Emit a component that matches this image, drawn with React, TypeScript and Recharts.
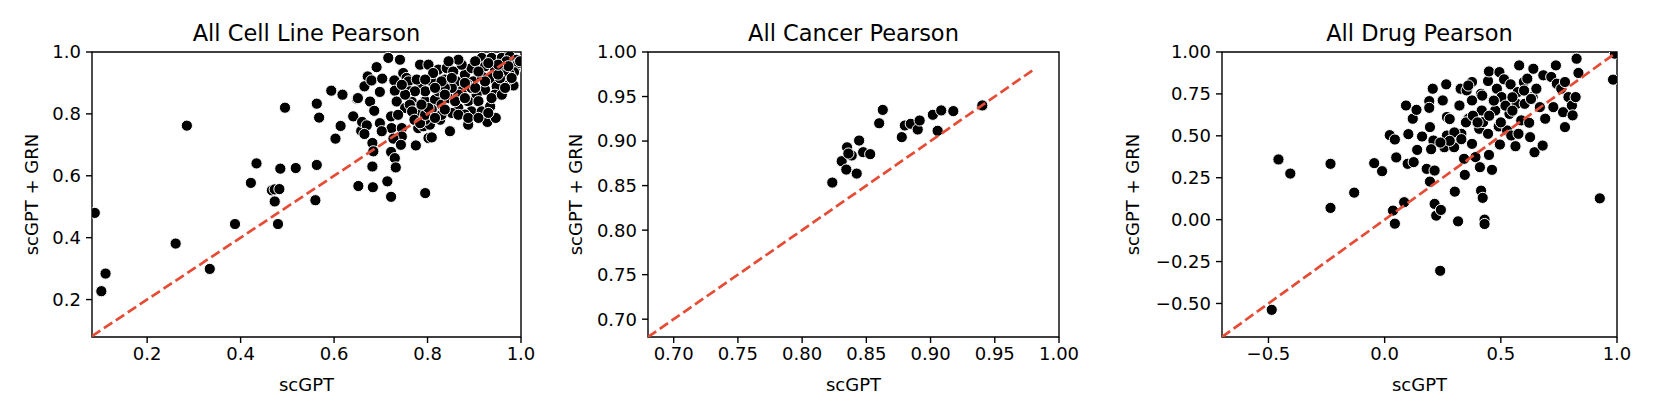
import {
  ReferenceArea,
  Scatter,
  ScatterChart,
  XAxis,
  YAxis,
} from "recharts";

const FONT = "'DejaVu Sans', sans-serif";
const RED = "#E64B35";

// All Cell Line Pearson
const cellLineX = [
  0.088, 0.102, 0.111, 0.261, 0.285, 0.334, 0.388, 0.422, 0.434, 0.467, 0.473, 0.473, 0.483, 0.485,
  0.48, 0.495, 0.518, 0.56, 0.563, 0.563, 0.568, 0.594, 0.603, 0.614, 0.618, 0.641, 0.649, 0.652,
  0.658, 0.716, 0.741, 0.691, 0.672, 0.665, 0.68, 0.703, 0.729, 0.748, 0.755, 0.651, 0.677, 0.698,
  0.73, 0.686, 0.66, 0.67, 0.665, 0.698, 0.722, 0.723, 0.745, 0.702, 0.745, 0.727, 0.743, 0.682,
  0.684, 0.722, 0.73, 0.732, 0.682, 0.683, 0.714, 0.722, 0.795, 0.775, 0.802, 0.809, 0.848, 0.887,
  0.928, 0.946, 0.984, 0.78, 0.791, 0.805, 0.827, 0.766, 0.77, 0.773, 0.78, 0.795, 0.816, 0.83,
  0.845, 0.809, 0.787, 0.809, 0.784, 0.802, 0.823, 0.837, 0.841, 0.855, 0.862, 0.873, 0.88, 0.894,
  0.898, 0.916, 0.937, 0.959, 0.976, 0.991, 0.923, 0.944, 0.966, 0.98, 0.916, 0.937, 0.948, 0.923,
  0.905, 0.887, 0.909, 0.866, 0.894, 0.916, 0.934, 0.88, 0.852, 0.83, 0.759, 0.762, 0.734, 0.752,
  0.737, 0.795, 0.866, 0.852, 0.887, 0.944, 0.969, 0.987, 0.994, 0.823, 0.837, 0.777, 0.812, 0.969,
  0.902, 0.873, 0.894, 0.998, 0.985, 0.975, 0.965, 0.955, 0.762, 0.767, 0.772, 0.784, 0.795, 0.802,
  0.787, 0.816, 0.837, 0.859, 0.88, 0.902, 0.923, 0.951, 0.973, 0.83, 0.852, 0.88, 0.909, 0.795,
  0.773, 0.752, 0.745, 0.795, 0.816, 0.837, 0.866, 0.887, 0.909, 0.93, 0.937, 0.959, 0.966, 0.98,
  0.951, 0.93, 0.866, 0.845,
];
const cellLineY = [
  0.48, 0.227, 0.284, 0.381, 0.762, 0.299, 0.444, 0.577, 0.64, 0.553, 0.556, 0.517, 0.557, 0.623,
  0.444, 0.82, 0.625, 0.521, 0.635, 0.833, 0.788, 0.875, 0.72, 0.761, 0.862, 0.792, 0.849, 0.567,
  0.745, 0.981, 0.975, 0.951, 0.921, 0.889, 0.908, 0.914, 0.908, 0.932, 0.916, 0.851, 0.84, 0.871,
  0.875, 0.81, 0.774, 0.763, 0.735, 0.77, 0.792, 0.754, 0.754, 0.744, 0.727, 0.72, 0.7, 0.706,
  0.679, 0.677, 0.657, 0.627, 0.63, 0.563, 0.582, 0.532, 0.544, 0.698, 0.722, 0.724, 0.744, 0.765,
  0.774, 0.787, 0.892, 0.754, 0.76, 0.765, 0.781, 0.84, 0.819, 0.792, 0.808, 0.841, 0.846, 0.83,
  0.851, 0.814, 0.884, 0.905, 0.959, 0.959, 0.943, 0.911, 0.948, 0.937, 0.905, 0.873, 0.927, 0.948,
  0.905, 0.981, 0.981, 0.981, 0.986, 0.975, 0.954, 0.948, 0.937, 0.948, 0.921, 0.916, 0.889, 0.878,
  0.862, 0.841, 0.841, 0.819, 0.808, 0.808, 0.824, 0.798, 0.803, 0.797, 0.905, 0.873, 0.84, 0.819,
  0.797, 0.781, 0.862, 0.884, 0.894, 0.862, 0.905, 0.943, 0.964, 0.873, 0.884, 0.911, 0.932, 0.97,
  0.97, 0.959, 0.884, 0.97, 0.935, 0.93, 0.925, 0.915, 0.83, 0.808, 0.781, 0.77, 0.797, 0.819,
  0.83, 0.787, 0.814, 0.841, 0.851, 0.884, 0.905, 0.927, 0.954, 0.905, 0.916, 0.9, 0.937, 0.873,
  0.873, 0.862, 0.894, 0.911, 0.884, 0.862, 0.797, 0.787, 0.787, 0.803, 0.851, 0.862, 0.884, 0.916,
  0.959, 0.964, 0.975, 0.97,
];

// All Cancer Pearson
const cancerX = [
  0.8235, 0.8308, 0.8344, 0.835, 0.8386, 0.8425, 0.8444, 0.8475, 0.853, 0.86, 0.8628, 0.8776,
  0.88, 0.8846, 0.89, 0.8915, 0.9018, 0.9055, 0.9083, 0.9177, 0.9403, 0.836,
];
const cancerY = [
  0.8534, 0.8774, 0.868, 0.893, 0.8838, 0.8635, 0.9006, 0.8875, 0.8853, 0.92, 0.935, 0.9044,
  0.9175, 0.9194, 0.913, 0.9231, 0.9295, 0.9115, 0.9344, 0.9336, 0.94, 0.886,
];

// All Drug Pearson
const drugX = [
  -0.486, -0.457, -0.406, -0.233, -0.233, -0.131, -0.045, -0.011, 0.022, 0.044, 0.05, 0.036,
  0.044, 0.084, 0.092, 0.099, 0.102, 0.121, 0.137, 0.125, 0.14, 0.161, 0.192, 0.192, 0.207, 0.215,
  0.222, 0.242, 0.239, 0.195, 0.195, 0.181, 0.21, 0.215, 0.25, 0.265, 0.268, 0.257, 0.268, 0.299,
  0.302, 0.316, 0.327, 0.322, 0.33, 0.342, 0.345, 0.353, 0.361, 0.376, 0.376, 0.376, 0.391, 0.41,
  0.415, 0.422, 0.43, 0.43, 0.407, 0.415, 0.418, 0.424, 0.445, 0.449, 0.445, 0.449, 0.462, 0.468,
  0.476, 0.483, 0.491, 0.494, 0.496, 0.503, 0.514, 0.527, 0.537, 0.542, 0.545, 0.563, 0.568, 0.573,
  0.579, 0.576, 0.588, 0.599, 0.603, 0.614, 0.622, 0.626, 0.637, 0.64, 0.645, 0.653, 0.668, 0.68,
  0.683, 0.691, 0.717, 0.726, 0.737, 0.741, 0.76, 0.768, 0.776, 0.776, 0.791, 0.806, 0.809, 0.822,
  0.826, 0.834, 0.926, 0.983, 0.991, 0.3, 0.28, 0.35, 0.38, 0.4, 0.45, 0.5, 0.52, 0.55, 0.33, 0.28,
  0.2, 0.24, 0.47, 0.42, 0.36, 0.6, 0.63, 0.55,
];
const drugY = [
  -0.538, 0.359, 0.275, 0.333, 0.07, 0.161, 0.337, 0.289, 0.504, 0.478, 0.371, 0.054, -0.024,
  0.104, 0.681, 0.333, 0.51, 0.602, 0.655, 0.343, 0.416, 0.496, 0.707, 0.667, 0.781, 0.094, 0.024,
  0.058, -0.305, 0.552, 0.227, 0.303, 0.472, 0.293, 0.711, 0.807, 0.612, 0.432, 0.502, 0.432,
  0.167, -0.01, 0.781, 0.681, 0.512, 0.363, 0.267, 0.771, 0.602, 0.711, 0.821, 0.452, 0.373, 0.313,
  0.173, 0.13, 0.0, -0.026, 0.542, 0.751, 0.651, 0.582, 0.827, 0.884, 0.512, 0.386, 0.297, 0.711,
  0.651, 0.781, 0.556, 0.88, 0.448, 0.731, 0.837, 0.532, 0.631, 0.807, 0.502, 0.438, 0.691, 0.761,
  0.92, 0.512, 0.592, 0.821, 0.691, 0.841, 0.578, 0.492, 0.731, 0.9, 0.402, 0.781, 0.671, 0.442,
  0.861, 0.602, 0.851, 0.671, 0.92, 0.811, 0.781, 0.641, 0.821, 0.552, 0.731, 0.681, 0.622, 0.731,
  0.96, 0.875, 0.127, 0.835, 0.99, 0.52, 0.6, 0.58, 0.62, 0.58, 0.62, 0.58, 0.68, 0.65, 0.48, 0.47,
  0.42, 0.46, 0.71, 0.74, 0.8, 0.77, 0.72, 0.73,
];

const cellLineTicks = [0.2, 0.4, 0.6, 0.8, 1.0];
const cancerTicks = [0.7, 0.75, 0.8, 0.85, 0.9, 0.95, 1.0];
const drugXTicks = [-0.5, 0, 0.5, 1.0];
const drugYTicks = [-0.5, -0.25, 0, 0.25, 0.5, 0.75, 1.0];

const titles = ["All Cell Line Pearson", "All Cancer Pearson", "All Drug Pearson"];
const X_LABEL = "scGPT";
const Y_LABEL = "scGPT + GRN";

const PLOT_TOP = 52;
const PLOT_BOTTOM = 337;
const AXIS_W = 100;
const X_AXIS_H = 40;

type PanelProps = {
  title: string;
  left: number;
  width: number;
  yLabelX: number;
  xs: number[];
  ys: number[];
  xDomain: [number, number];
  yDomain: [number, number];
  xTicks: number[];
  yTicks: number[];
  xDigits: number;
  yDigits: number;
  diag: [number, number];
};

function fmt(v: number, digits: number) {
  return v.toFixed(digits).replace("-", "\u2212");
}

function Dot(props: any) {
  const { cx, cy } = props;
  if (cx == null || cy == null) return null;
  return <circle cx={cx} cy={cy} r={5.6} fill="#000" stroke="#fff" strokeWidth={1} />;
}

function NoDot() {
  return <g />;
}

function Panel(p: PanelProps) {
  const data = p.xs.map((x, i) => ({ x, y: p.ys[i] }));
  // y = x reference, drawn after the points so it sits on top like the original
  const diagData = p.diag.map((v) => ({ x: v, y: v }));
  const chartW = AXIS_W + p.width + 20;
  const tickStyle = { fill: "#000", fontSize: 18, fontFamily: FONT };
  const center = p.left + p.width / 2;
  const midY = (PLOT_TOP + PLOT_BOTTOM) / 2;

  return (
    <>
      <div style={{ position: "absolute", left: p.left - AXIS_W, top: 0 }}>
        <ScatterChart
          width={chartW}
          height={418}
          margin={{ top: PLOT_TOP, right: 20, bottom: 418 - PLOT_BOTTOM - X_AXIS_H, left: 0 }}
        >
          <XAxis
            type="number"
            dataKey="x"
            domain={p.xDomain}
            allowDataOverflow
            ticks={p.xTicks}
            tickFormatter={(v) => fmt(v, p.xDigits)}
            height={X_AXIS_H}
            axisLine={false}
            tickLine={{ stroke: "#000", strokeWidth: 1.4 }}
            tickSize={6}
            tickMargin={4}
            tick={tickStyle}
            interval={0}
          />
          <YAxis
            type="number"
            dataKey="y"
            domain={p.yDomain}
            allowDataOverflow
            ticks={p.yTicks}
            tickFormatter={(v) => fmt(v, p.yDigits)}
            width={AXIS_W}
            axisLine={false}
            tickLine={{ stroke: "#000", strokeWidth: 1.4 }}
            tickSize={6}
            tickMargin={5}
            tick={tickStyle}
            interval={0}
          />
          <Scatter data={data} shape={<Dot />} isAnimationActive={false} />
          <Scatter
            data={diagData}
            shape={<NoDot />}
            line={{ stroke: RED, strokeWidth: 2.7, strokeDasharray: "10 4.3" }}
            isAnimationActive={false}
          />
          <ReferenceArea
            x1={p.xDomain[0]}
            x2={p.xDomain[1]}
            y1={p.yDomain[0]}
            y2={p.yDomain[1]}
            fill="none"
            fillOpacity={0}
            stroke="#000"
            strokeWidth={1.4}
            ifOverflow="visible"
          />
        </ScatterChart>
      </div>
      <svg
        width={1660}
        height={418}
        style={{ position: "absolute", left: 0, top: 0, pointerEvents: "none" }}
      >
        <text x={center} y={41} textAnchor="middle" fontSize={22.5} fontFamily={FONT} fill="#000">
          {p.title}
        </text>
        <text x={center} y={391} textAnchor="middle" fontSize={18} fontFamily={FONT} fill="#000">
          {X_LABEL}
        </text>
        <text
          x={p.yLabelX}
          y={midY}
          textAnchor="middle"
          fontSize={18}
          fontFamily={FONT}
          fill="#000"
          transform={`rotate(-90 ${p.yLabelX} ${midY})`}
        >
          {Y_LABEL}
        </text>
      </svg>
    </>
  );
}

export default function App() {
  return (
    <div style={{ position: "absolute", left: 0, top: 0, width: 1660, height: 418, background: "#fff" }}>
      <Panel
        title={titles[0]}
        left={92}
        width={429}
        yLabelX={38}
        xs={cellLineX}
        ys={cellLineY}
        xDomain={[0.082, 1.0]}
        yDomain={[0.079, 1.0]}
        xTicks={cellLineTicks}
        yTicks={cellLineTicks}
        xDigits={1}
        yDigits={1}
        diag={[0.082, 0.985]}
      />
      <Panel
        title={titles[1]}
        left={648}
        width={411}
        yLabelX={582}
        xs={cancerX}
        ys={cancerY}
        xDomain={[0.68, 1.0]}
        yDomain={[0.68, 1.0]}
        xTicks={cancerTicks}
        yTicks={cancerTicks}
        xDigits={2}
        yDigits={2}
        diag={[0.68, 0.98]}
      />
      <Panel
        title={titles[2]}
        left={1222}
        width={395}
        yLabelX={1139}
        xs={drugX}
        ys={drugY}
        xDomain={[-0.7, 1.0]}
        yDomain={[-0.7, 1.0]}
        xTicks={drugXTicks}
        yTicks={drugYTicks}
        xDigits={1}
        yDigits={2}
        diag={[-0.7, 0.99]}
      />
    </div>
  );
}
